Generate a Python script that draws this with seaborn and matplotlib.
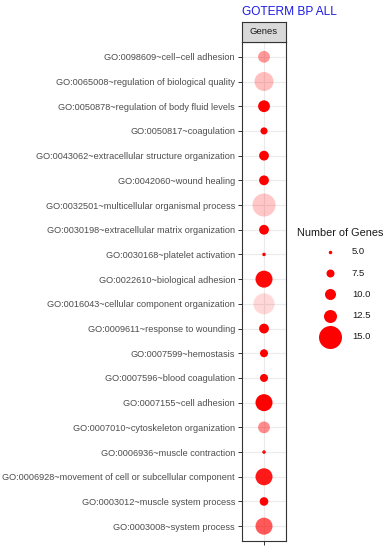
import numpy as np
import pandas as pd
import matplotlib
matplotlib.use("Agg")
import matplotlib.pyplot as plt
import seaborn as sns

sns.set_theme(style="white")
plt.rcParams['font.family'] = ['Liberation Sans', 'DejaVu Sans']

terms = [
    "GO:0098609~cell\u2212cell adhesion",
    "GO:0065008~regulation of biological quality",
    "GO:0050878~regulation of body fluid levels",
    "GO:0050817~coagulation",
    "GO:0043062~extracellular structure organization",
    "GO:0042060~wound healing",
    "GO:0032501~multicellular organismal process",
    "GO:0030198~extracellular matrix organization",
    "GO:0030168~platelet activation",
    "GO:0022610~biological adhesion",
    "GO:0016043~cellular component organization",
    "GO:0009611~response to wounding",
    "GO:0007599~hemostasis",
    "GO:0007596~blood coagulation",
    "GO:0007155~cell adhesion",
    "GO:0007010~cytoskeleton organization",
    "GO:0006936~muscle contraction",
    "GO:0006928~movement of cell or subcellular component",
    "GO:0003012~muscle system process",
    "GO:0003008~system process",
]
genes = [11, 14, 11, 7, 9, 9, 15, 9, 5, 13.5, 14.5, 9, 7.5, 7.5, 13.5, 11, 5, 13.5, 8, 13.5]
significance = [0.4, 0.25, 1.0, 1.0, 1.0, 1.0, 0.22, 1.0, 1.0, 0.97, 0.15, 1.0, 1.0, 1.0, 1.0,
                0.45, 1.0, 0.9, 1.0, 0.65]
legend_values = [5.0, 7.5, 10.0, 12.5, 15.0]
panel_label = "Genes"
title = "GOTERM BP ALL"

df = pd.DataFrame({"Term": terms, "Genes": genes, "Group": [""] * len(terms),
                   "Sig": significance})

W, H = 390, 550
fig = plt.figure(figsize=(W / 100, H / 100), dpi=100)

def px_axes(x0, y0, x1, y1):
    return fig.add_axes([x0 / W, 1 - y1 / H, (x1 - x0) / W, (y1 - y0) / H])

def diam_to_s(genes_val):
    d = np.interp(genes_val, [5, 7.5, 10, 12.5, 15], [3.5, 8, 11, 13, 23])
    return (d * 0.72) ** 2

ax = px_axes(242, 42, 286, 541)
size_map = {g: diam_to_s(g) for g in sorted(set(genes))}
sns.scatterplot(data=df, x="Group", y="Term", size="Genes", sizes=size_map,
                color="red", linewidth=0, legend=False, ax=ax, zorder=3)
coll = ax.collections[0]
coll.set_alpha(np.array(significance))

ax.set_ylim(len(terms) - 0.4, -0.6)
ax.set_xlim(-0.6, 0.6)
ax.set_xlabel("")
ax.set_ylabel("")
ax.grid(True, color="#EBEBEB", linewidth=0.8, zorder=0)
ax.set_axisbelow(True)
for sp in ax.spines.values():
    sp.set_color("#333333")
    sp.set_linewidth(0.8)
ax.tick_params(axis="both", which="both", length=3, width=0.7, color="#333333",
               labelsize=6.6, labelcolor="#4D4D4D", pad=2,
               left=True, bottom=True)

# strip
sax = px_axes(242, 22, 286, 42)
sax.set_xticks([]); sax.set_yticks([])
sax.set_facecolor("#D9D9D9")
for sp in sax.spines.values():
    sp.set_color("#333333")
    sp.set_linewidth(0.8)
sax.text(0.5, 0.5, panel_label, ha="center", va="center", fontsize=6.8, color="#1A1A1A",
         transform=sax.transAxes)

fig.text(242 / W, 1 - 12 / H, title, ha="left", va="center", fontsize=8.6, color="#1A1AE6")

handles = [ax.scatter([], [], s=diam_to_s(v), color="red", linewidth=0) for v in legend_values]
leg = fig.legend(handles, [f"{v:.1f}" for v in legend_values], title="Number of Genes",
                 loc="upper left", bbox_to_anchor=(290 / W, 1 - 221 / H), frameon=False,
                 fontsize=6.8, title_fontsize=7.8, labelspacing=1.3, handletextpad=-1.15,
                 handlelength=7.0, borderpad=0.2)
leg._legend_box.align = "left"
leg._legend_box.sep = 7
leg.get_title().set_color("#1A1A1A")
for t in leg.get_texts():
    t.set_color("#1A1A1A")

fig.savefig("out.png", dpi=100)
